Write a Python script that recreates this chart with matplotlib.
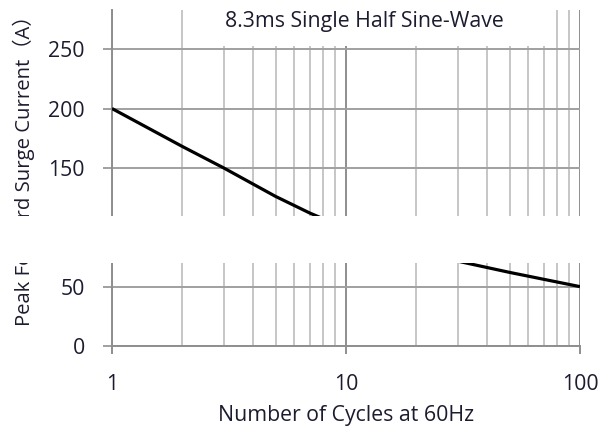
import matplotlib
matplotlib.use("Agg")
import matplotlib.pyplot as plt
from matplotlib.patches import Rectangle
from matplotlib.ticker import LogLocator, NullFormatter
import numpy as np

# surge rating curve
cycles = [1, 2, 3, 5, 7, 10, 20, 50, 100]
current = [200, 168, 150, 126, 112, 99, 79, 62, 50]
yticks = [0, 50, 100, 150, 200, 250]
xticks = [1, 10, 100]
xticklabels = ["1", "10", "100"]

W, H = 601, 426
txt = "#1c1c30"
font = ["Open Sans", "Noto Sans CJK SC"]
fs = 15.3

fig = plt.figure(figsize=(W / 100, H / 100), dpi=100)
ax = fig.add_axes([112 / W, 80 / H, 468 / W, 336 / H])

ax.set_xscale("log")
ax.set_xlim(1, 100)
ax.set_ylim(0, 283)

# grid: light minor verticals, darker decade lines and horizontals
ax.xaxis.set_minor_locator(LogLocator(base=10, subs=np.arange(2, 10)))
ax.xaxis.set_minor_formatter(NullFormatter())
ax.grid(True, which="minor", axis="x", color="#c6c6c6", lw=1.4)
ax.grid(True, which="major", axis="x", color="#8e8e8e", lw=1.4)
ax.grid(True, which="major", axis="y", color="#a0a0a0", lw=1.4)
ax.set_axisbelow(True)

ax.plot(cycles, current, color="black", lw=2.3, solid_capstyle="butt", zorder=3)

ax.set_xticks(xticks)
ax.set_xticklabels(xticklabels)
ax.set_yticks(yticks)
for s in ["top", "right"]:
    ax.spines[s].set_visible(False)
for s in ["left", "bottom"]:
    ax.spines[s].set_color("#8e8e8e")
    ax.spines[s].set_linewidth(1.4)
ax.tick_params(axis="x", which="major", length=6, width=1.4, color="#8e8e8e",
               pad=14, labelsize=fs, labelcolor=txt)
ax.tick_params(axis="x", which="minor", length=0)
ax.tick_params(axis="y", length=6.5, width=1.4, color="#a0a0a0",
               pad=13, labelsize=fs, labelcolor=txt)
for lab in ax.get_xticklabels() + ax.get_yticklabels():
    lab.set_family(font)

ax.set_xlabel("Number of Cycles at 60Hz", fontsize=fs, color=txt,
              family=font, labelpad=7)

fig.text(24 / W, 1 - 166 / H, "Peak Forward Surge Current（A）", rotation=90,
         ha="center", va="center", fontsize=14.6, color=txt, family=font)

# white mask across the middle of the chart (broken-axis look)
fig.add_artist(Rectangle((0, 1 - 263 / H), 1, 47 / H, transform=fig.transFigure,
                         facecolor="white", edgecolor="none", zorder=10))
# white box behind the title
fig.add_artist(Rectangle((190 / W, 1 - 46 / H), 362 / W, 46 / H,
                         transform=fig.transFigure, facecolor="white",
                         edgecolor="none", zorder=10))
fig.text(364 / W, 1 - 22 / H, "8.3ms Single Half Sine-Wave", ha="center",
         va="center", fontsize=fs, color=txt, family=font, zorder=11)

fig.savefig("out.png", dpi=100)
